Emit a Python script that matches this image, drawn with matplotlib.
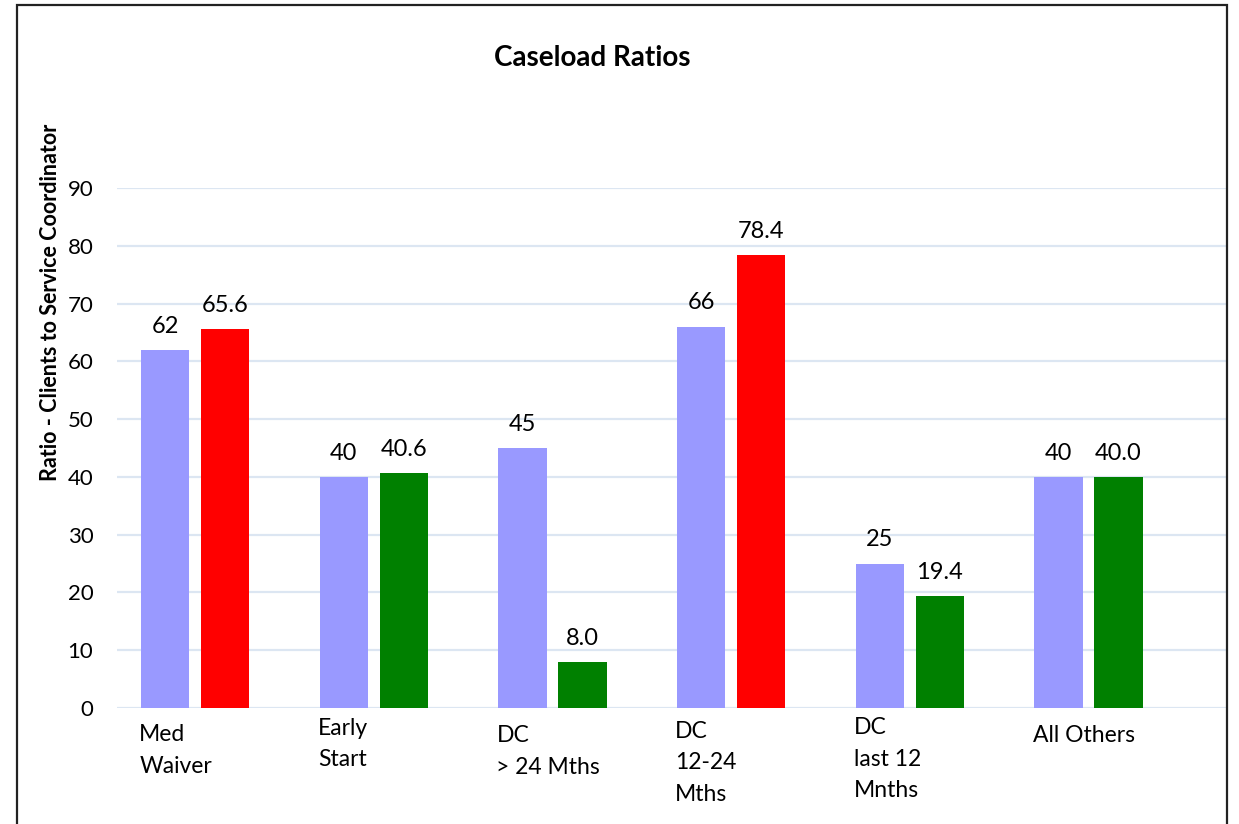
import matplotlib.pyplot as plt
from matplotlib.patches import Rectangle
import numpy as np

# data
categories = ["Med\nWaiver", "Early\nStart", "DC\n> 24 Mths", "DC\n12-24\nMths", "DC\nlast 12\nMnths", "All Others"]
standard = [62, 40, 45, 66, 25, 40]
actual = [65.6, 40.6, 8.0, 78.4, 19.4, 40.0]
actual_labels = ["65.6", "40.6", "8.0", "78.4", "19.4", "40.0"]
actual_colors = ["#ff0000", "#008000", "#008000", "#ff0000", "#008000", "#008000"]
yticks = [0, 10, 20, 30, 40, 50, 60, 70, 80, 90]

plt.rcParams['font.family'] = ['Lato', 'DejaVu Sans']

W, H = 1239, 824
fig = plt.figure(figsize=(W / 100, H / 100), dpi=100)

# outer frame
fig.patches.append(Rectangle((17 / W, -0.01), (1227 - 17) / W, (H - 5) / H + 0.01,
                             transform=fig.transFigure, fill=False,
                             edgecolor="#222222", linewidth=1.6))

ax = fig.add_axes([117 / W, (H - 708) / H, (1226 - 117) / W, (708 - 188) / H])

x = np.arange(len(categories))
off = 0.168
bw = 0.27
ax.bar(x - off, standard, width=bw, color="#9999ff", zorder=3)
ax.bar(x + off, actual, width=bw, color=actual_colors, zorder=3)

# small vertical nudges of the category labels, as in the original
label_shift = [-1.4, -0.3, -1.6, -0.8, -0.2, -1.6]

for i in range(len(categories)):
    ax.text(x[i] - off, standard[i] + 4.1, str(standard[i]), ha="center", va="center", fontsize=17)
    ax.text(x[i] + off, actual[i] + 4.1, actual_labels[i], ha="center", va="center", fontsize=17)
    ax.text(x[i] - off - bw / 2 - 0.01, -1.4 + label_shift[i], categories[i], ha="left", va="top",
            fontsize=16.5, linespacing=1.62)

ax.set_xlim(-0.437, 5.77)
ax.set_ylim(0, 90)
ax.set_yticks(yticks)
ax.set_xticks([])
ax.tick_params(axis="y", length=0, pad=17, labelsize=16)
for s in ax.spines.values():
    s.set_visible(False)
ax.grid(axis="y", color="#dce6f2", linewidth=1.6, zorder=0)
ax.set_axisbelow(True)

fig.text(51 / W, 1 - 302 / H, "Ratio - Clients to Service Coordinator", rotation=90,
         ha="center", va="center", fontsize=15.5, fontweight="bold")
fig.text(592 / W, 1 - 58 / H, "Caseload Ratios", ha="center", va="center",
         fontsize=20, fontweight="bold")

fig.savefig("out.png", dpi=100)
